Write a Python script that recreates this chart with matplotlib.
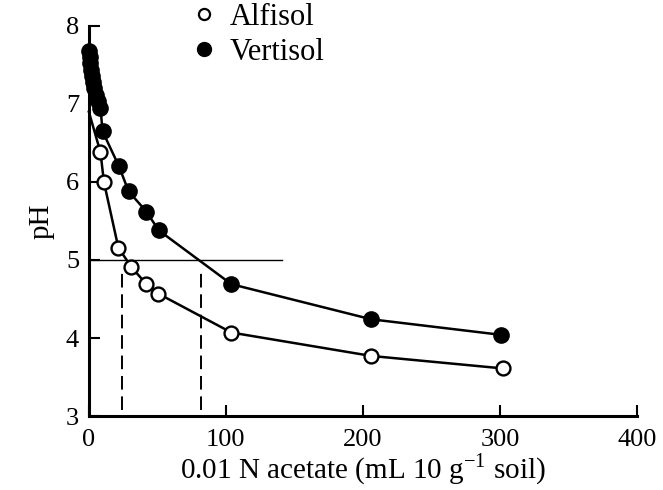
import matplotlib.pyplot as plt
from matplotlib.lines import Line2D

plt.rcParams["font.family"] = "Liberation Serif"
plt.rcParams["mathtext.fontset"] = "custom"
plt.rcParams["mathtext.rm"] = "Liberation Serif"

# Titration curves: pH against added 0.01 N acetate
alfisol_x = [0, 8.5, 11, 21.5, 31, 42, 50.5, 104, 206, 302]
alfisol_ph = [6.9, 6.38, 6.0, 5.16, 4.91, 4.69, 4.57, 4.07, 3.77, 3.61]

vertisol_x = [0, 0.5, 1, 1.5, 2, 3, 4, 5, 6.5, 8.5, 10, 22, 29, 42, 51, 104, 206, 301]
vertisol_ph = [7.68, 7.6, 7.52, 7.44, 7.36, 7.28, 7.2, 7.12, 7.04, 6.95, 6.65,
               6.2, 5.88, 5.62, 5.38, 4.69, 4.24, 4.04]

# pH 5 reference line and the acetate amounts where each curve reaches it
ref_ph = 5
ref_x_end = 141
cross_x = [24.5, 81.5]

fig = plt.figure(figsize=(6.63, 4.9), dpi=100)
ax = fig.add_axes([0.134, 0.151, 0.827, 0.796])

ax.plot([0, ref_x_end], [ref_ph, ref_ph], color="black", lw=1.0)
for cx in cross_x:
    ax.plot([cx, cx], [3.08, 4.9], color="black", lw=1.4, ls=(0, (7, 3.5)))

# first Alfisol point sits under the Vertisol cluster, so only its line shows
ax.plot(alfisol_x, alfisol_ph, color="black", lw=1.8, marker="o", ms=10,
        mfc="white", mec="black", mew=1.7, markevery=range(1, len(alfisol_x)),
        clip_on=False, zorder=3)
ax.plot(vertisol_x, vertisol_ph, color="black", lw=1.8, marker="o", ms=10.5,
        mfc="black", mec="black", mew=1.5, clip_on=False, zorder=4)

ax.set_xlim(0, 400)
ax.set_ylim(3, 8)
ax.set_xticks([0, 100, 200, 300, 400])
ax.set_yticks([3, 4, 5, 6, 7, 8])
ax.tick_params(direction="in", length=8, width=1.5, labelsize=19)
ax.tick_params(axis="x", pad=9)
ax.tick_params(axis="y", pad=7)
for side in ("top", "right"):
    ax.spines[side].set_visible(False)
for side in ("left", "bottom"):
    ax.spines[side].set_linewidth(2.2)

ax.set_xlabel(r"0.01 N acetate (mL 10 g$^{\mathregular{-1}}$ soil)", fontsize=21, labelpad=1)
ax.set_ylabel("pH", fontsize=21, labelpad=8)

handles = [
    Line2D([], [], ls="none", marker="o", ms=8, mfc="white", mec="black", mew=1.6),
    Line2D([], [], ls="none", marker="o", ms=10, mfc="black", mec="black"),
]
fig.legend(handles, ["Alfisol", "Vertisol"], loc="upper left",
           bbox_to_anchor=(0.245, 1.05), frameon=False, fontsize=22,
           handlelength=0.9, handletextpad=0.4, labelspacing=0.2)

fig.savefig("out.png", dpi=100)
